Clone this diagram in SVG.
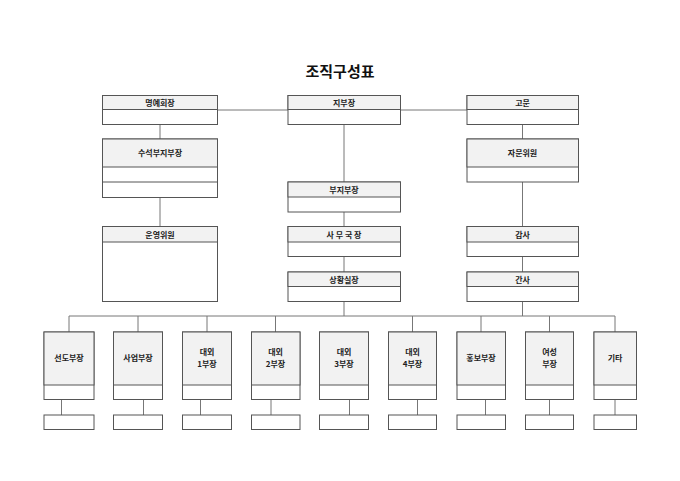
<svg xmlns="http://www.w3.org/2000/svg" width="680" height="481" viewBox="0 0 680 481">
<style>
.b{fill:#fff;stroke:#555;stroke-width:1}
.h{fill:#f2f2f2;stroke:#555;stroke-width:1}
.c{fill:none;stroke:#777;stroke-width:1}
text{font-family:"Noto Sans CJK KR","Noto Sans",sans-serif;font-size:8px;font-weight:bold;fill:#222;text-anchor:middle}
.t{font-size:15px;fill:#111}
</style>
<rect width="680" height="481" fill="#fff"/>
<text class="t" x="340" y="77">조직구성표</text>
<g id="connectors">
<path class="c" d="M217.5 110H288M400.5 110H467"/>
<path class="c" d="M160 124.5V139M160 197.5V226.5"/>
<path class="c" d="M344 124.5V182M344 212V226.5M344 256.5V272M344 301.5V316"/>
<path class="c" d="M522.5 124.5V139M522.5 182V226.5M522.5 256.5V272M522.5 301.5V316"/>
<path class="c" d="M69 316H615M69 316V332M138 316V332M207 316V332M275.5 316V332M412.5 316V332M481 316V332M549.5 316V332M615 316V332"/>
<path class="c" d="M61.5 399.5V415M143.5 399.5V415M200.5 399.5V415M271 399.5V415M349.5 399.5V415M417.5 399.5V415M485.5 399.5V415M549.5 399.5V415M615 399.5V415"/>
</g>
<g id="명예회장"><rect class="b" x="102.5" y="95.5" width="115" height="29"/><rect class="h" x="102.5" y="95.5" width="115" height="14"/><text x="160" y="105.5">명예회장</text></g>
<g id="지부장"><rect class="b" x="288" y="95.5" width="112.5" height="29"/><rect class="h" x="288" y="95.5" width="112.5" height="14"/><text x="344" y="105.5">지부장</text></g>
<g id="고문"><rect class="b" x="467" y="95.5" width="111.5" height="29"/><rect class="h" x="467" y="95.5" width="111.5" height="14"/><text x="522.5" y="105.5">고문</text></g>
<g id="수석부지부장"><rect class="b" x="102.5" y="139" width="115" height="58.5"/><rect class="h" x="102.5" y="139" width="115" height="28"/><line class="b" x1="102.5" y1="182" x2="217.5" y2="182"/><text x="160" y="156">수석부지부장</text></g>
<g id="자문위원"><rect class="b" x="467" y="139" width="111.5" height="43"/><rect class="h" x="467" y="139" width="111.5" height="28"/><text x="522.5" y="156">자문위원</text></g>
<g id="부지부장"><rect class="b" x="288" y="182" width="112.5" height="30"/><rect class="h" x="288" y="182" width="112.5" height="15"/><text x="344" y="192.5">부지부장</text></g>
<g id="운영위원"><rect class="b" x="102.5" y="226.5" width="115" height="75"/><rect class="h" x="102.5" y="226.5" width="115" height="15.5"/><text x="160" y="237.5">운영위원</text></g>
<g id="사무국장"><rect class="b" x="288" y="226.5" width="112.5" height="30"/><rect class="h" x="288" y="226.5" width="112.5" height="15.5"/><text x="344" y="237.5">사 무 국 장</text></g>
<g id="감사"><rect class="b" x="467" y="226.5" width="111.5" height="30"/><rect class="h" x="467" y="226.5" width="111.5" height="15.5"/><text x="522.5" y="237.5">감사</text></g>
<g id="상황실장"><rect class="b" x="288" y="272" width="112.5" height="29.5"/><rect class="h" x="288" y="272" width="112.5" height="14.5"/><text x="344" y="282.5">상황실장</text></g>
<g id="간사"><rect class="b" x="467" y="272" width="111.5" height="29.5"/><rect class="h" x="467" y="272" width="111.5" height="14.5"/><text x="522.5" y="282.5">간사</text></g>
<g id="선도부장"><rect class="b" x="44" y="332" width="50" height="67.5"/><rect class="h" x="44" y="332" width="50" height="53"/><text x="69" y="361">선도부장</text><rect class="b" x="44" y="415" width="50" height="14.5"/></g>
<g id="사업부장"><rect class="b" x="113.5" y="332" width="49" height="67.5"/><rect class="h" x="113.5" y="332" width="49" height="53"/><text x="138" y="361">사업부장</text><rect class="b" x="113.5" y="415" width="49" height="14.5"/></g>
<g id="대외1부장"><rect class="b" x="182.5" y="332" width="49" height="67.5"/><rect class="h" x="182.5" y="332" width="49" height="53"/><text x="207" y="354.5">대외</text><text x="207" y="367">1부장</text><rect class="b" x="182.5" y="415" width="49" height="14.5"/></g>
<g id="대외2부장"><rect class="b" x="251.5" y="332" width="48.5" height="67.5"/><rect class="h" x="251.5" y="332" width="48.5" height="53"/><text x="275.5" y="354.5">대외</text><text x="275.5" y="367">2부장</text><rect class="b" x="251.5" y="415" width="48.5" height="14.5"/></g>
<g id="대외3부장"><rect class="b" x="319.5" y="332" width="49" height="67.5"/><rect class="h" x="319.5" y="332" width="49" height="53"/><text x="344" y="354.5">대외</text><text x="344" y="367">3부장</text><rect class="b" x="319.5" y="415" width="49" height="14.5"/></g>
<g id="대외4부장"><rect class="b" x="388.5" y="332" width="48" height="67.5"/><rect class="h" x="388.5" y="332" width="48" height="53"/><text x="412.5" y="354.5">대외</text><text x="412.5" y="367">4부장</text><rect class="b" x="388.5" y="415" width="48" height="14.5"/></g>
<g id="홍보부장"><rect class="b" x="457" y="332" width="48.5" height="67.5"/><rect class="h" x="457" y="332" width="48.5" height="53"/><text x="481" y="361">홍보부장</text><rect class="b" x="457" y="415" width="48.5" height="14.5"/></g>
<g id="여성부장"><rect class="b" x="525.5" y="332" width="48" height="67.5"/><rect class="h" x="525.5" y="332" width="48" height="53"/><text x="549.5" y="354.5">여성</text><text x="549.5" y="367">부장</text><rect class="b" x="525.5" y="415" width="48" height="14.5"/></g>
<g id="기타"><rect class="b" x="594" y="332" width="42.5" height="67.5"/><rect class="h" x="594" y="332" width="42.5" height="53"/><text x="615" y="361">기타</text><rect class="b" x="594" y="415" width="42.5" height="14.5"/></g>
</svg>
